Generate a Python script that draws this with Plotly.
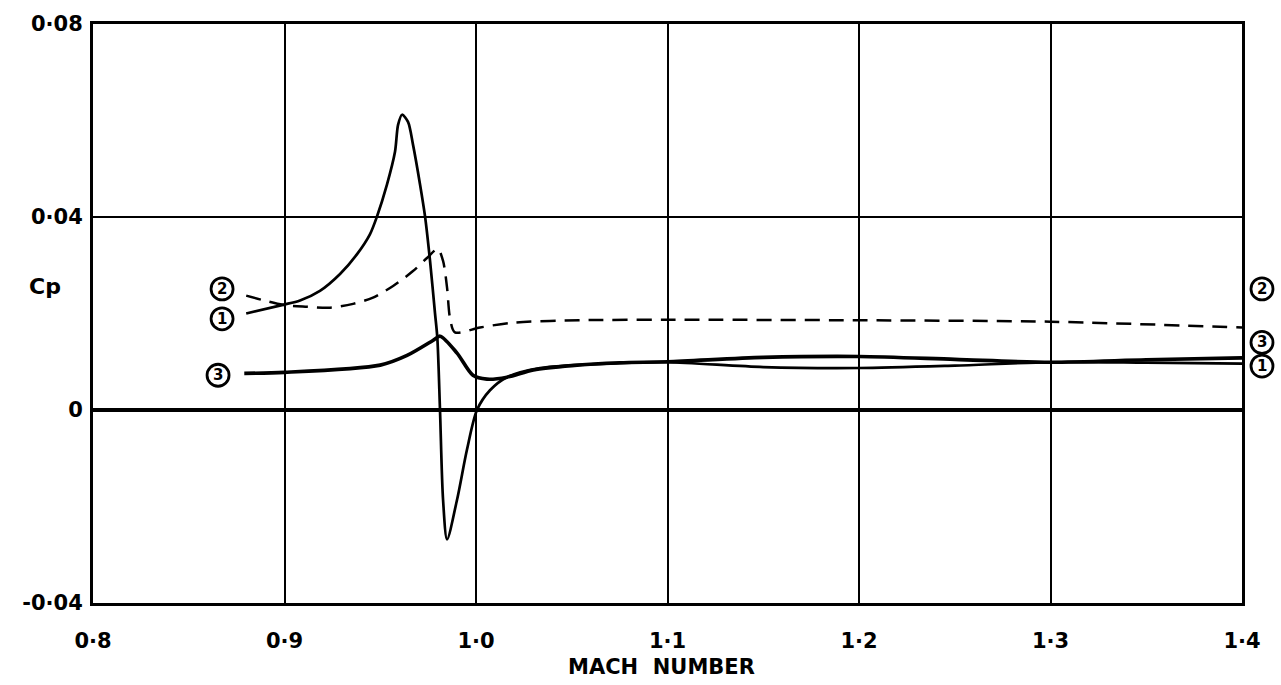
import plotly.graph_objects as go

# Curve 1 (solid, with the sharp peak and trough)
c1_mach = [0.880, 0.8992, 0.9081, 0.9185, 0.929, 0.9379, 0.9446, 0.9483, 0.9535, 0.9577, 0.9593,
           0.9614, 0.9645, 0.9671, 0.9708, 0.9734, 0.976, 0.9786, 0.9798, 0.9812, 0.9828, 0.9849,
           0.9901, 0.9953, 1.0005, 1.0073, 1.0162, 1.0334, 1.0752, 1.10, 1.15, 1.20, 1.25, 1.30,
           1.35, 1.40]
c1_cp = [0.0200, 0.0218, 0.0227, 0.0247, 0.0282, 0.0323, 0.0364, 0.0401, 0.0467, 0.0535, 0.0591,
         0.0612, 0.0597, 0.0550, 0.0467, 0.0401, 0.0309, 0.0200, 0.0150, 0.0000, -0.0186, -0.0268,
         -0.0186, -0.0082, 0.0000, 0.0041, 0.0068, 0.0087, 0.0097, 0.0099, 0.0089, 0.0087, 0.0092,
         0.0099, 0.0098, 0.0096]

# Curve 2 (dashed)
c2_mach = [0.880, 0.8992, 0.9117, 0.9238, 0.9358, 0.9462, 0.9567, 0.9671, 0.9744, 0.980, 0.9828,
           0.9849, 0.9864, 0.989, 1.0021, 1.0193, 1.0543, 1.10, 1.20, 1.30, 1.40]
c2_cp = [0.0237, 0.0218, 0.0214, 0.0212, 0.0220, 0.0233, 0.0257, 0.0288, 0.0315, 0.0334, 0.0309,
         0.0253, 0.0191, 0.0161, 0.0171, 0.0181, 0.0186, 0.0187, 0.0186, 0.0183, 0.0171]

# Curve 3 (heavy solid)
c3_mach = [0.879, 0.900, 0.950, 0.964, 0.9775, 0.9812, 0.9901, 0.9984, 1.0057, 1.0162, 1.03,
           1.05, 1.075, 1.10, 1.15, 1.20, 1.25, 1.30, 1.35, 1.40]
c3_cp = [0.0076, 0.0078, 0.0093, 0.0113, 0.0144, 0.0153, 0.0118, 0.0072, 0.0064, 0.0068, 0.0083,
         0.0092, 0.0098, 0.0100, 0.0109, 0.0111, 0.0105, 0.0099, 0.0104, 0.0108]

x_ticks = [0.8, 0.9, 1.0, 1.1, 1.2, 1.3, 1.4]
x_labels = ["0·8", "0·9", "1·0", "1·1", "1·2", "1·3", "1·4"]
y_ticks = [-0.04, 0.0, 0.04, 0.08]
y_labels = ["-0·04", "0", "0·04", "0·08"]

# curve tags: (text, x position, y position)
left_tags = [("2", 0.8674, 0.0251), ("1", 0.8674, 0.0189), ("3", 0.8653, 0.0072)]
right_tags = [("2", 1.0174, 0.0251), ("3", 1.0174, 0.0140), ("1", 1.0174, 0.0091)]

FONT = "DejaVu Sans, Noto Sans CJK SC, sans-serif"

fig = go.Figure()
fig.add_trace(go.Scatter(x=c2_mach, y=c2_cp, mode="lines",
                         line=dict(color="black", width=2.5, dash="15px,9px", shape="spline", smoothing=0.8)))
fig.add_trace(go.Scatter(x=c1_mach, y=c1_cp, mode="lines",
                         line=dict(color="black", width=2.7, shape="spline", smoothing=0.8)))
fig.add_trace(go.Scatter(x=c3_mach, y=c3_cp, mode="lines",
                         line=dict(color="black", width=3.6, shape="spline", smoothing=0.8)))

fig.update_layout(
    width=1281, height=685,
    margin=dict(l=93, r=39, t=20, b=82),
    paper_bgcolor="white", plot_bgcolor="white",
    showlegend=False,
    font=dict(family=FONT, size=20, color="black"),
)
fig.update_xaxes(range=[0.8, 1.4], tickvals=x_ticks, ticktext=x_labels,
                 showgrid=True, gridcolor="black", gridwidth=1.5,
                 showline=True, linecolor="black", linewidth=3, mirror=True,
                 ticks="", ticklabelstandoff=17, zeroline=False,
                 tickfont=dict(family=FONT, size=21, weight="bold"))
fig.update_yaxes(range=[-0.04, 0.08], tickvals=y_ticks, ticktext=y_labels,
                 showgrid=True, gridcolor="black", gridwidth=1.5,
                 showline=True, linecolor="black", linewidth=3, mirror=True,
                 ticks="", ticklabelstandoff=3,
                 zeroline=True, zerolinecolor="black", zerolinewidth=3.5,
                 tickfont=dict(family=FONT, size=21, weight="bold"))

annotations = [
    dict(text="MACH\u00a0\u00a0NUMBER", xref="paper", yref="paper", x=0.495, y=-0.11,
         showarrow=False, font=dict(size=21, weight="bold"), xanchor="center", yanchor="middle"),
    dict(text="Cp", xref="paper", yref="y", x=-0.042, y=0.0257,
         showarrow=False, font=dict(size=22, weight="bold"), xanchor="center", yanchor="middle"),
]
shapes = []
R = 11
for txt, xv, yv in left_tags:
    shapes.append(dict(type="circle", xref="x", yref="y", xsizemode="pixel", ysizemode="pixel",
                       xanchor=xv, yanchor=yv, x0=-R, x1=R, y0=-R, y1=R,
                       line=dict(color="black", width=2.8), layer="above"))
    annotations.append(dict(text=txt, xref="x", yref="y", x=xv, y=yv, showarrow=False,
                            font=dict(size=15, weight="bold"), xanchor="center", yanchor="middle"))
for txt, xv, yv in right_tags:
    shapes.append(dict(type="circle", xref="paper", yref="y", xsizemode="pixel", ysizemode="pixel",
                       xanchor=xv, yanchor=yv, x0=-R, x1=R, y0=-R, y1=R,
                       line=dict(color="black", width=2.8), layer="above"))
    annotations.append(dict(text=txt, xref="paper", yref="y", x=xv, y=yv, showarrow=False,
                            font=dict(size=15, weight="bold"), xanchor="center", yanchor="middle"))
fig.update_layout(annotations=annotations, shapes=shapes)

fig.write_html("out.html")
